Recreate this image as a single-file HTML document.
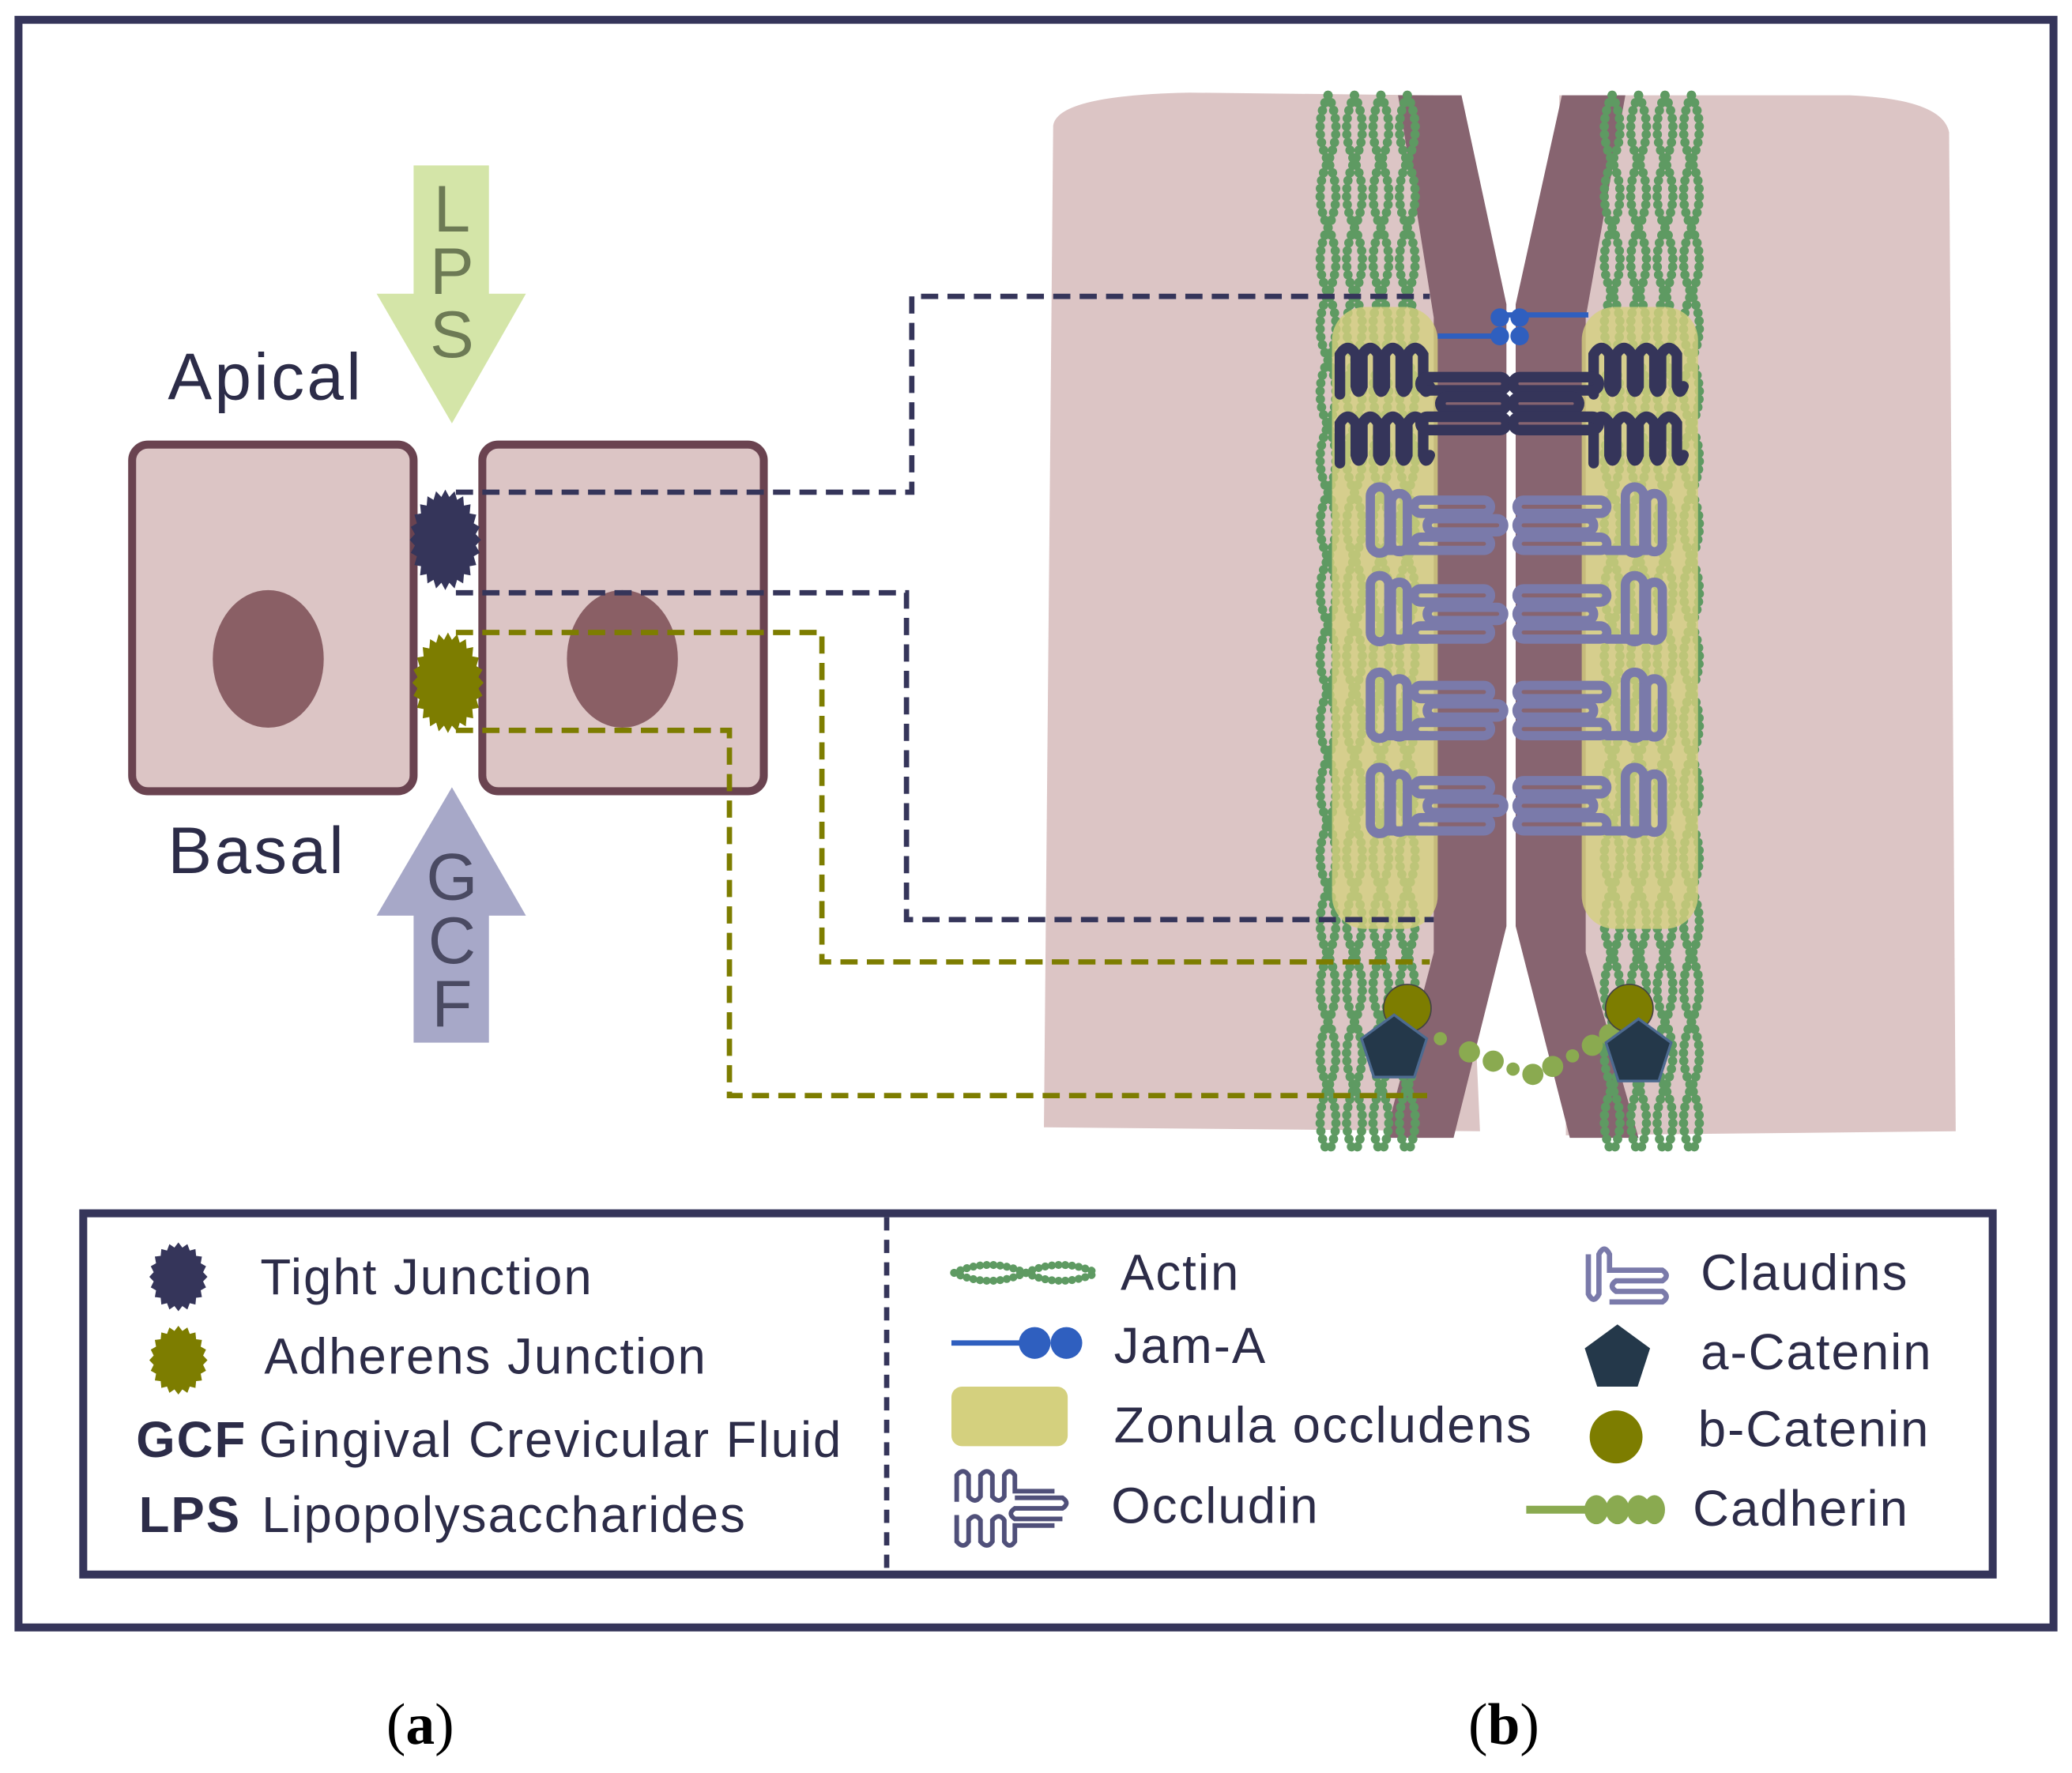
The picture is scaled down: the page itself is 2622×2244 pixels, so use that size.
<!DOCTYPE html>
<html><head><meta charset="utf-8"><style>
html,body{margin:0;padding:0;background:#fff}
svg{display:block}
text{font-family:"Liberation Sans",sans-serif;fill:#2c2c48}
</style></head><body>
<svg id="s" width="2622" height="2244" viewBox="0 0 1568 1340" preserveAspectRatio="none" xmlns="http://www.w3.org/2000/svg">
<rect x="14" y="15" width="1540" height="1215" fill="#fff" stroke="#35355a" stroke-width="6"/>
<path d="M797,95 Q800,72 900,70 L1085,72 L1120,855 L790,852 Z" fill="#dcc5c5"/>
<path d="M1180,72 L1400,72 Q1470,75 1475,100 L1480,855 L1185,858 Z" fill="#dcc5c5"/>
<path d="M1058,72 L1106,72 L1140,230 L1140,700 L1100,860 L1048,860 L1085,720 L1085,240 Z" fill="#876470"/>
<path d="M1182,72 L1230,72 L1200,240 L1200,720 L1240,860 L1188,860 L1147,700 L1147,230 Z" fill="#876470"/>
<g id="actin" fill="none" stroke="#5e9a62" stroke-width="7" stroke-linecap="round" stroke-dasharray="0.1 6"></g>
<rect x="1008" y="232" width="80" height="470" rx="25" fill="#d4d07e" opacity="0.8"/>
<rect x="1197" y="232" width="88" height="470" rx="25" fill="#d4d07e" opacity="0.8"/>
<g id="occ" fill="none" stroke="#35355a" stroke-width="8" stroke-linecap="round"></g>
<g id="cld" fill="none" stroke="#7a7aaa" stroke-width="7" stroke-linecap="round"></g>
<line x1="1088" y1="254" x2="1140" y2="254" stroke="#2f5fbf" stroke-width="4"/>
<line x1="1140" y1="238" x2="1202" y2="238" stroke="#2f5fbf" stroke-width="4"/>
<circle cx="1135" cy="240" r="7" fill="#2f5fbf"/><circle cx="1150" cy="240" r="7" fill="#2f5fbf"/>
<circle cx="1135" cy="254" r="7" fill="#2f5fbf"/><circle cx="1150" cy="254" r="7" fill="#2f5fbf"/>
<g id="cad" fill="#8aaa50"></g>
<circle cx="1065" cy="762" r="18" fill="#7d7d00" stroke="#444" stroke-width="1"/>
<circle cx="1233" cy="762" r="18" fill="#7d7d00" stroke="#444" stroke-width="1"/>
<polygon id="p1" fill="#24384a" stroke="#4d6a90" stroke-width="2"/>
<polygon id="p2" fill="#24384a" stroke="#4d6a90" stroke-width="2"/>
<rect x="100" y="336" width="213" height="262" rx="12" fill="#dcc5c5" stroke="#6a4350" stroke-width="6"/>
<ellipse cx="203" cy="498" rx="42" ry="52" fill="#8a5f65"/>
<rect x="365" y="336" width="213" height="262" rx="12" fill="#dcc5c5" stroke="#6a4350" stroke-width="6"/>
<ellipse cx="471" cy="498" rx="42" ry="52" fill="#8a5f65"/>
<polygon id="tj" fill="#35355a"/>
<polygon id="aj" fill="#7d7d00"/>
<g fill="none" stroke-width="4" stroke-dasharray="13 7">
<path d="M345,372 H690 V224 H1082" stroke="#35355a"/>
<path d="M345,448 H686 V695 H1085" stroke="#35355a"/>
<path d="M345,478 H622 V727 H1082" stroke="#7d7d00"/>
<path d="M345,552 H552 V828 H1080" stroke="#7d7d00"/>
</g>
<polygon points="313,125 370,125 370,222 398,222 342,320 285,222 313,222" fill="#d4e5a8"/>
<g font-size="50" text-anchor="middle" style="fill:#6d7a55">
<text x="342" y="175" style="fill:#6d7a55">L</text>
<text x="342" y="222" style="fill:#6d7a55">P</text>
<text x="342" y="270" style="fill:#6d7a55">S</text></g>
<polygon points="342,595 398,692 370,692 370,788 313,788 313,692 285,692" fill="#a7a8c8"/>
<text x="342" y="680" font-size="50" text-anchor="middle" style="fill:#4a4a62">G</text>
<text x="342" y="728" font-size="50" text-anchor="middle" style="fill:#4a4a62">C</text>
<text x="342" y="776" font-size="50" text-anchor="middle" style="fill:#4a4a62">F</text>
<text x="127" y="302" font-size="50" letter-spacing="2">Apical</text>
<text x="127" y="660" font-size="50" letter-spacing="2">Basal</text>
<rect x="63" y="917" width="1445" height="273" fill="none" stroke="#35355a" stroke-width="6"/>
<line x1="671" y1="920" x2="671" y2="1187" stroke="#35355a" stroke-width="4" stroke-dasharray="10 7"/>
<polygon id="l1" fill="#35355a"/><polygon id="l2" fill="#7d7d00"/>
<g font-size="38" letter-spacing="1.2">
<text x="197" y="978">Tight Junction</text>
<text x="200" y="1038">Adherens Junction</text>
<text x="103" y="1101" font-weight="bold">GCF</text>
<text x="196" y="1101">Gingival Crevicular Fluid</text>
<text x="105" y="1158" font-weight="bold">LPS</text>
<text x="198" y="1158">Lipopolysaccharides</text>
<text x="848" y="975">Actin</text>
<text x="843" y="1030">Jam-A</text>
<text x="843" y="1090">Zonula occludens</text>
<text x="841" y="1151">Occludin</text>
<text x="1287" y="975">Claudins</text>
<text x="1287" y="1035">a-Catenin</text>
<text x="1285" y="1093">b-Catenin</text>
<text x="1281" y="1153">Cadherin</text>
</g>
<path d="M722,962 q27,-12 54,0 q27,12 54,0 M722,962 q27,12 54,0 q27,-12 54,0" fill="none" stroke="#5e9a62" stroke-width="6" stroke-dasharray="0.1 5" stroke-linecap="round"/>
<line x1="720" y1="1015" x2="775" y2="1015" stroke="#2f5fbf" stroke-width="4"/>
<circle cx="783" cy="1015" r="12" fill="#2f5fbf"/><circle cx="807" cy="1015" r="12" fill="#2f5fbf"/>
<rect x="720" y="1048" width="88" height="45" rx="8" fill="#d4d07e"/>
<path d="M724,1135 v-20 q5,-6 9,0 v16 q5,6 9,0 v-16 q5,-6 9,0 v16 q5,6 9,0 v-16 q4,-6 8,0 v12 h30 M724,1145 v20 q5,6 9,0 v-16 q5,-6 9,0 v16 q5,6 9,0 v-16 q5,-6 9,0 v16 q4,6 8,0 v-12 h30 M768,1132 h36 q6,4 0,8 h-36 q-6,4 0,8 h36" fill="none" stroke="#50507a" stroke-width="3.5"/>
<path d="M1202,948 v30 q4,8 8,0 v-30 q4,-8 8,0 v12 h40 q6,4 0,8 h-35 q-6,4 0,8 h35 q6,4 0,8 h-40" fill="none" stroke="#7a7aaa" stroke-width="4"/>
<polygon id="l3" fill="#24384a"/>
<circle cx="1223" cy="1086" r="20" fill="#7d7d00"/>
<line x1="1155" y1="1141" x2="1205" y2="1141" stroke="#8aaa50" stroke-width="6"/>
<g fill="#8aaa50"><ellipse cx="1208" cy="1141" rx="9" ry="11"/><ellipse cx="1224" cy="1141" rx="9" ry="11"/><ellipse cx="1240" cy="1141" rx="9" ry="11"/><ellipse cx="1252" cy="1141" rx="8" ry="11"/></g>
<text x="318" y="1318" font-size="44" text-anchor="middle" style="font-family:'Liberation Serif',serif;fill:#000">(<tspan font-weight="bold">a</tspan>)</text>
<text x="1138" y="1318" font-size="44" text-anchor="middle" style="font-family:'Liberation Serif',serif;fill:#000">(<tspan font-weight="bold">b</tspan>)</text>
</svg>
<script>
function star(id,cx,cy,rx,ry,n){var p=[];for(var i=0;i<n*2;i++){var a=i*Math.PI/n,r=i%2?0.86:1;p.push((cx+rx*r*Math.cos(a)).toFixed(1)+","+(cy+ry*r*Math.sin(a)).toFixed(1));}document.getElementById(id).setAttribute("points",p.join(" "));}
star("tj",337,408,27,38,24);star("aj",339,516,27,38,24);
star("l1",135,965,22,26,20);star("l2",135,1028,22,26,20);
function pent(id,cx,cy,r){var p=[];for(var i=0;i<5;i++){var a=-Math.PI/2+i*2*Math.PI/5;p.push((cx+r*Math.cos(a)).toFixed(1)+","+(cy+r*Math.sin(a)).toFixed(1));}document.getElementById(id).setAttribute("points",p.join(" "));}
pent("p1",1055,793,26);pent("p2",1240,796,26);pent("l3",1224,1027,26);
var NS="http://www.w3.org/2000/svg";
function add(g,tag,attrs){var e=document.createElementNS(NS,tag);for(var k in attrs)e.setAttribute(k,attrs[k]);document.getElementById(g).appendChild(e);return e;}
var cols=[1005,1025,1045,1065,1220,1240,1260,1280];
cols.forEach(function(x,i){for(var s=0;s<2;s++){var d="M"+x+",72";var ph=(i*17)%40;for(var y=72;y<858;y+=50){var dx=(s?1:-1)*12;d+=" Q"+(x+dx)+","+(y+25)+" "+x+","+(y+50);}
add("actin","path",{d:d});}});
// occludin vertical loops
[[1014,1082],[1206,1274]].forEach(function(r){[[262,298],[314,350]].forEach(function(v){var d="";for(var x=r[0],k=0;x<r[1];x+=17,k++){d+=(k?"":"M"+x+","+v[1])+" L"+x+","+(v[0]+6)+" Q"+(x+6)+","+(v[0]-4)+" "+(x+12)+","+(v[0]+6)+" L"+(x+12)+","+(v[1]-6)+" Q"+(x+14)+","+(v[1]+2)+" "+(x+17)+","+(v[1]-6);}add("occ","path",{d:d});});});
[[290,1075,1140],[290,1145,1210],[305,1090,1140],[305,1145,1195],[320,1075,1140],[320,1145,1210]].forEach(function(a){add("occ","rect",{x:a[1],y:a[0]-5,width:a[2]-a[1],height:10,rx:5});});
[378,445,518,590].forEach(function(y0){[0,14,28].forEach(function(o){add("cld","rect",{x:1080+(o==14?0:-10),y:y0+o,width:58,height:10,rx:5});add("cld","rect",{x:1148,y:y0+o,width:58+(o==14?0:10),height:10,rx:5});});
[1037,1230].forEach(function(x){add("cld","rect",{x:x,y:y0-10,width:14,height:50,rx:7});add("cld","rect",{x:x+16,y:y0-5,width:12,height:44,rx:6});});
add("cld","path",{d:"M1052,"+(y0+2)+" v36 h28"});add("cld","path",{d:"M1244,"+(y0+2)+" v36 h-28"});});
[[1090,785],[1112,795],[1130,802],[1145,808],[1160,812],[1175,806],[1190,798],[1205,790],[1218,782]].forEach(function(p,i){add("cad","circle",{cx:p[0],cy:p[1],r:i%3==0?5:8});});
</script>
</body></html>
